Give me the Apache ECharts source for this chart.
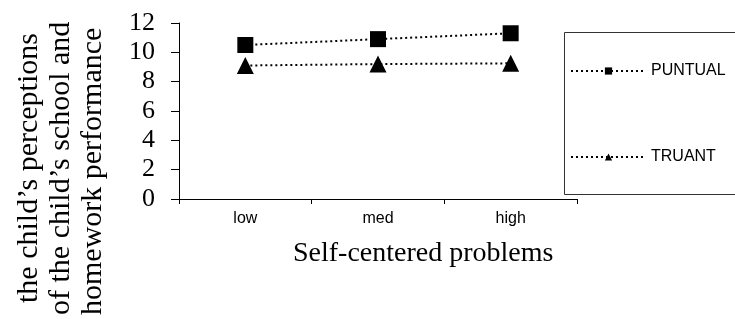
<!DOCTYPE html>
<html>
<head>
<meta charset="utf-8">
<script src="https://cdn.jsdelivr.net/npm/echarts@6/dist/echarts.min.js"></script>
<style>
  html, body { margin: 0; padding: 0; background: #fff; }
  #main { width: 735px; height: 319px; }
</style>
</head>
<body>
<div id="main"></div>
<script>
// data
var levels = ['low', 'med', 'high'];
var puntual = [10.5, 10.9, 11.3];
var truant = [9.1, 9.2, 9.25];
var yTitle = ['the child\u2019s perceptions', 'of the child\u2019s school and', 'homework performance'];

var myChart = echarts.init(document.getElementById('main'));

var serif = '"Liberation Serif", "Times New Roman", serif';
var sans = '"Liberation Sans", Arial, sans-serif';

// where each rotated title line starts (bottom end)
var titleStart = [303, 315, 315];

var option = {
    backgroundColor: '#fff',
    animation: false,
    grid: { left: 179, right: 158, top: 23, bottom: 120 },
    legend: {
        orient: 'vertical',
        left: 570,
        top: 63,
        padding: 0,
        itemWidth: 75,
        itemHeight: 9,
        itemGap: 70,
        textStyle: { fontFamily: sans, fontSize: 16, color: '#000' },
        data: ['PUNTUAL', 'TRUANT']
    },
    xAxis: {
        type: 'category',
        data: levels,
        boundaryGap: true,
        axisLine: { lineStyle: { color: '#000', width: 1 } },
        axisTick: { show: true, length: 5, lineStyle: { color: '#000' } },
        axisLabel: { fontFamily: sans, fontSize: 16, color: '#000', margin: 12 },
        splitLine: { show: false }
    },
    yAxis: {
        type: 'value',
        min: 0,
        max: 12,
        interval: 2,
        axisLine: { show: true, lineStyle: { color: '#000', width: 1 } },
        axisTick: { show: true, length: 8, lineStyle: { color: '#000' } },
        axisLabel: { fontFamily: serif, fontSize: 26, color: '#000', margin: 24 },
        splitLine: { show: false }
    },
    series: [{
        name: 'PUNTUAL',
        type: 'line',
        data: puntual,
        symbol: 'rect',
        symbolSize: 16,
        itemStyle: { color: '#000' },
        lineStyle: { color: '#000', width: 2, type: [2, 3] }
    }, {
        name: 'TRUANT',
        type: 'line',
        data: truant,
        symbol: 'triangle',
        symbolSize: 17,
        itemStyle: { color: '#000' },
        lineStyle: { color: '#000', width: 2, type: [2, 3] }
    }],
    graphic: [{
        type: 'rect',
        left: 562,
        top: 30,
        shape: { width: 171, height: 162 },
        style: { fill: 'none', stroke: '#333', lineWidth: 1 }
    }, {
        type: 'text',
        x: 293,
        y: 254,
        style: {
            text: 'Self-centered problems',
            font: '28px ' + serif,
            fill: '#000',
            verticalAlign: 'middle'
        }
    }].concat(yTitle.map(function (t, i) {
        return {
            type: 'text',
            x: 29 + i * 32,
            y: titleStart[i],
            rotation: Math.PI / 2,
            style: {
                text: t,
                font: '30px ' + serif,
                fill: '#000',
                align: 'left',
                verticalAlign: 'middle'
            }
        };
    }))
};

myChart.setOption(option);
</script>
</body>
</html>
